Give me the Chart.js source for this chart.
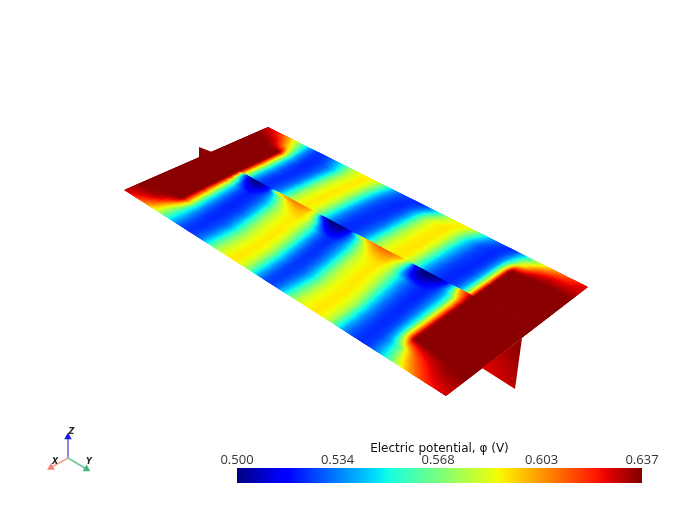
<!DOCTYPE html>
<html>
<head>
<meta charset="utf-8">
<title>Electric potential</title>
<script src="https://cdn.jsdelivr.net/npm/chart.js@4"></script>
<style>
    html, body { margin: 0; padding: 0; background: #fff; overflow: hidden; }
    #surface { position: absolute; left: 0; top: 0; }
    #colorbar { position: absolute; left: 187px; top: 442px; }
</style>
</head>
<body>
<canvas id="surface" width="679" height="509"></canvas>
<canvas id="colorbar" width="492" height="53"></canvas>
<script>
// ── Data ─────────────────────────────────
const PHI_MIN = 0.500;
const PHI_MAX = 0.637;
const barTicks = [0.500, 0.534, 0.568, 0.603, 0.637];
const barTitle = 'Electric potential, φ (V)';

// stations along the device (fraction of its length)
const stations = [
    0.00, 0.02, 0.04, 0.06, 0.08, 0.10, 0.12, 0.14, 0.16, 0.18,
    0.20, 0.22, 0.24, 0.26, 0.28, 0.30, 0.32, 0.34, 0.36, 0.38,
    0.40, 0.42, 0.44, 0.46, 0.48, 0.50, 0.52, 0.54, 0.56, 0.58,
    0.60, 0.62, 0.64, 0.66, 0.68, 0.70, 0.72, 0.74, 0.76, 0.78,
    0.80, 0.82, 0.84, 0.86, 0.88, 0.90, 0.92, 0.94, 0.96, 0.98,
    1.00
];

// potential along each row, front half (edge to seam)
const frontRowPos = [0, 0.17, 0.32, 0.55, 0.80, 0.88, 0.95, 1];
const frontEdge = [
    .628,.624,.617,.608,.597,.584,.568,.552,.537,.527,
    .524,.526,.533,.549,.568,.581,.588,.591,.589,.577,
    .556,.538,.527,.525,.533,.547,.565,.580,.587,.590,
    .591,.588,.578,.558,.540,.530,.525,.523,.525,.532,
    .543,.556,.571,.585,.597,.606,.613,.618,.622,.625,
    .628];
const frontA = [
    .636,.636,.635,.632,.622,.600,.574,.553,.537,.527,
    .523,.525,.533,.548,.567,.580,.588,.591,.588,.575,
    .554,.536,.526,.525,.532,.546,.564,.579,.587,.590,
    .591,.587,.577,.556,.539,.529,.524,.523,.526,.536,
    .552,.570,.595,.610,.618,.624,.628,.632,.634,.634,
    .634];
const frontB = [
    .640,.640,.640,.640,.640,.640,.600,.556,.535,.525,
    .522,.525,.532,.547,.566,.580,.588,.591,.587,.573,
    .551,.534,.525,.525,.531,.544,.562,.578,.587,.590,
    .591,.586,.575,.553,.537,.528,.523,.523,.529,.547,
    .592,.640,.640,.640,.640,.640,.640,.640,.640,.640,
    .640];
const frontC = [
    .640,.640,.640,.640,.640,.640,.590,.550,.531,.523,
    .522,.526,.537,.556,.575,.585,.590,.591,.582,.563,
    .541,.528,.523,.526,.536,.553,.573,.584,.589,.591,
    .589,.580,.562,.544,.532,.525,.522,.524,.533,.553,
    .596,.640,.640,.640,.640,.640,.640,.640,.640,.640,
    .640];
const frontD = [
    .640,.640,.640,.640,.640,.640,.578,.542,.526,.521,
    .524,.532,.547,.569,.582,.589,.591,.587,.570,.549,
    .532,.523,.523,.532,.545,.566,.581,.588,.591,.591,
    .584,.568,.550,.536,.527,.523,.521,.526,.537,.558,
    .600,.640,.640,.640,.640,.640,.640,.640,.640,.640,
    .640];
const frontE = [
    .640,.640,.640,.640,.640,.640,.570,.528,.512,.514,
    .524,.536,.556,.578,.590,.595,.595,.587,.565,.532,
    .514,.512,.518,.532,.551,.573,.588,.595,.597,.595,
    .584,.562,.532,.515,.510,.512,.518,.526,.540,.563,
    .605,.640,.640,.640,.640,.640,.640,.640,.640,.640,
    .640];
const frontF = [
    .640,.640,.640,.640,.640,.640,.545,.510,.503,.507,
    .520,.545,.574,.592,.600,.601,.596,.580,.540,.510,
    .503,.505,.515,.535,.560,.587,.600,.604,.604,.600,
    .587,.562,.525,.505,.500,.503,.510,.524,.550,.590,
    .615,.640,.640,.640,.640,.640,.640,.640,.640,.640,
    .640];
const frontSeam = [
    .640,.640,.640,.640,.640,.640,.535,.502,.500,.507,
    .525,.592,.604,.608,.608,.606,.600,.575,.512,.500,
    .500,.500,.512,.550,.592,.603,.608,.610,.610,.606,
    .600,.570,.515,.502,.500,.500,.505,.518,.550,.605,
    .620,.640,.640,.640,.640,.640,.640,.640,.640,.640,
    .640];

// potential along each row, back half (seam to edge)
const backRowPos = [0, 0.33, 0.67, 0.83, 1];
const backSeam = [
    .640,.640,.640,.640,.640,.640,.580,.542,.527,.523,
    .526,.536,.556,.577,.587,.591,.588,.574,.552,.536,
    .527,.523,.523,.527,.536,.553,.572,.584,.589,.591,
    .590,.580,.560,.542,.531,.525,.522,.522,.527,.542,
    .580,.640,.640,.640,.640,.640,.640,.640,.640,.640,
    .640];
const backA = [
    .640,.640,.640,.640,.640,.640,.582,.544,.528,.523,
    .525,.533,.552,.574,.586,.591,.589,.577,.556,.538,
    .528,.524,.523,.526,.533,.549,.569,.582,.589,.591,
    .591,.582,.563,.545,.533,.526,.523,.522,.526,.540,
    .580,.640,.640,.640,.640,.640,.640,.640,.640,.640,
    .640];
const backB = [
    .640,.640,.640,.640,.640,.640,.580,.542,.527,.522,
    .524,.531,.548,.570,.584,.590,.590,.579,.560,.542,
    .530,.525,.523,.524,.531,.545,.565,.581,.588,.591,
    .591,.584,.566,.547,.536,.527,.524,.522,.525,.538,
    .580,.640,.640,.640,.640,.640,.640,.640,.640,.640,
    .640];
const backC = [
    .637,.636,.634,.628,.612,.592,.565,.537,.525,.522,
    .525,.532,.545,.566,.582,.589,.591,.582,.564,.546,
    .533,.526,.523,.523,.529,.542,.561,.579,.588,.591,
    .591,.585,.569,.551,.538,.528,.524,.522,.525,.535,
    .556,.585,.600,.615,.624,.628,.630,.630,.630,.630,
    .630];
const backEdge = [
    .630,.626,.618,.607,.592,.575,.552,.534,.524,.524,
    .530,.540,.553,.570,.583,.589,.591,.586,.572,.553,
    .538,.529,.525,.523,.523,.527,.538,.554,.572,.584,
    .589,.591,.584,.570,.553,.540,.531,.525,.522,.526,
    .540,.555,.570,.583,.594,.603,.609,.614,.618,.622,
    .626];

const frontRows = [frontEdge, frontA, frontB, frontC, frontD, frontE, frontF, frontSeam];
const backRows  = [backSeam, backA, backB, backC, backEdge];

// ── View of the device in the picture ────
const cornerLeft   = { x: 124, y: 190 };
const cornerBottom = { x: 446, y: 396 };
const cornerTop    = { x: 268, y: 127 };
const cornerRight  = { x: 588, y: 287 };
const seamStart = 0.58;
const seamEnd   = 0.625;

function view(s, t) {
    const ax = cornerLeft.x + (cornerBottom.x - cornerLeft.x) * s;
    const ay = cornerLeft.y + (cornerBottom.y - cornerLeft.y) * s;
    const bx = cornerTop.x + (cornerRight.x - cornerTop.x) * s;
    const by = cornerTop.y + (cornerRight.y - cornerTop.y) * s;
    return { x: ax + (bx - ax) * t, y: ay + (by - ay) * t };
}

function rowDataset(values, pos, group) {
    const data = stations.map((s, i) => {
        const seam = seamStart + (seamEnd - seamStart) * s;
        const t = group === 'front' ? pos * seam : seam + (1 - seam) * pos;
        return { ...view(s, t), phi: values[i] };
    });
    return { data, group, showLine: false, pointRadius: 0, pointHitRadius: 0 };
}

// ── Jet colormap ─────────────────────────
function ramp(f, pts) {
    for (let i = 1; i < pts.length; i++) {
        if (f <= pts[i][0]) {
            const k = (f - pts[i - 1][0]) / (pts[i][0] - pts[i - 1][0]);
            return pts[i - 1][1] + (pts[i][1] - pts[i - 1][1]) * k;
        }
    }
    return pts[pts.length - 1][1];
}
function jet(phi, darkEnd = 0.5) {
    const f = Math.min(1, Math.max(0, (phi - PHI_MIN) / (PHI_MAX - PHI_MIN)));
    const r = ramp(f, [[0, 0], [0.35, 0], [0.66, 1], [0.89, 1], [1, darkEnd]]);
    const g = ramp(f, [[0, 0], [0.125, 0], [0.375, 1], [0.64, 1], [0.91, 0], [1, 0]]);
    const b = ramp(f, [[0, 0.5], [0.11, 1], [0.34, 1], [0.65, 0], [1, 0]]);
    return `rgb(${Math.round(r * 255)},${Math.round(g * 255)},${Math.round(b * 255)})`;
}

// ── Surface shading (row elements come from the chart's scales) ──
function shadeBand(ctx, lowEls, highEls, lowVals, highVals) {
    const subS = 4;
    for (let i = 0; i < stations.length - 1; i++) {
        const gap = Math.hypot(highEls[i].x - lowEls[i].x, highEls[i].y - lowEls[i].y);
        const subT = Math.max(1, Math.ceil(gap / 2));
        for (let a = 0; a < subS; a++) {
            for (let b = 0; b < subT; b++) {
                const u0 = a / subS, u1 = (a + 1) / subS;
                const v0 = b / subT, v1 = (b + 1) / subT;
                const at = (u, v) => {
                    const lx = lowEls[i].x + (lowEls[i + 1].x - lowEls[i].x) * u;
                    const ly = lowEls[i].y + (lowEls[i + 1].y - lowEls[i].y) * u;
                    const hx = highEls[i].x + (highEls[i + 1].x - highEls[i].x) * u;
                    const hy = highEls[i].y + (highEls[i + 1].y - highEls[i].y) * u;
                    return [lx + (hx - lx) * v, ly + (hy - ly) * v];
                };
                const um = (u0 + u1) / 2, vm = (v0 + v1) / 2;
                const lo = lowVals[i] + (lowVals[i + 1] - lowVals[i]) * um;
                const hi = highVals[i] + (highVals[i + 1] - highVals[i]) * um;
                const col = jet(lo + (hi - lo) * vm, 0.545);
                ctx.beginPath();
                ctx.moveTo(...at(u0, v0));
                ctx.lineTo(...at(u1, v0));
                ctx.lineTo(...at(u1, v1));
                ctx.lineTo(...at(u0, v1));
                ctx.closePath();
                ctx.fillStyle = col;
                ctx.strokeStyle = col;
                ctx.fill();
                ctx.stroke();
            }
        }
    }
}

const surfacePlugin = {
    id: 'surfaceShade',
    beforeDatasetsDraw(chart) {
        const ctx = chart.ctx;
        ['front', 'back'].forEach(group => {
            const idx = [];
            chart.data.datasets.forEach((d, i) => { if (d.group === group) idx.push(i); });
            // outline of this half, keeps the overlapping strokes inside
            const first = chart.getDatasetMeta(idx[0]).data;
            const last  = chart.getDatasetMeta(idx[idx.length - 1]).data;
            ctx.save();
            ctx.beginPath();
            first.forEach((el, i) => i ? ctx.lineTo(el.x, el.y) : ctx.moveTo(el.x, el.y));
            [...last].reverse().forEach(el => ctx.lineTo(el.x, el.y));
            ctx.closePath();
            ctx.clip();
            ctx.lineWidth = 1.6;
            for (let n = 0; n < idx.length - 1; n++) {
                const lowSet  = chart.data.datasets[idx[n]].data.map(p => p.phi);
                const highSet = chart.data.datasets[idx[n + 1]].data.map(p => p.phi);
                shadeBand(ctx, chart.getDatasetMeta(idx[n]).data, chart.getDatasetMeta(idx[n + 1]).data, lowSet, highSet);
            }
            ctx.restore();
        });
    }
};

// ── Orientation triad ────────────────────
const triadOrigin = { x: 68, y: 458 };
const triadNames  = ['X', 'Y', 'Z'];
const triadTips   = [{ x: 51, y: 467.5 }, { x: 86.5, y: 469 }, { x: 68, y: 437 }];
const triadLabels = [{ x: 55, y: 462 }, { x: 89, y: 462 }, { x: 71.5, y: 432 }];
const triadShaft  = ['#f4a898', '#74c9a0', '#8a8ae6'];
const triadHead   = ['#f08474', '#46b37c', '#1a1ae6'];

function triadDataset(i) {
    const tip = triadTips[i];
    const angle = Math.atan2(tip.x - triadOrigin.x, -(tip.y - triadOrigin.y)) * 180 / Math.PI;
    return {
        data: [triadOrigin, tip],
        showLine: true,
        borderColor: triadShaft[i],
        borderWidth: 2,
        pointStyle: 'triangle',
        pointRadius: c => c.dataIndex === 1 ? 4.4 : 0,
        pointRotation: angle,
        pointBackgroundColor: triadHead[i],
        pointBorderWidth: 0
    };
}

const triadTextPlugin = {
    id: 'triadText',
    afterDatasetsDraw(chart) {
        const ctx = chart.ctx;
        ctx.save();
        ctx.font = 'italic bold 8px "DejaVu Sans"';
        ctx.fillStyle = '#222';
        ctx.textAlign = 'center';
        ctx.textBaseline = 'middle';
        triadNames.forEach((name, i) => {
            const p = triadLabels[i];
            ctx.fillText(name, chart.scales.x.getPixelForValue(p.x), chart.scales.y.getPixelForValue(p.y));
        });
        ctx.restore();
    }
};

// ── Electrode sheets at the two ends ─────
const sheetFar  = [{ x: 199, y: 147 }, { x: 199, y: 158 }, { x: 212, y: 152 }, { x: 199, y: 147 }];
const sheetNear = [{ x: 482, y: 368 }, { x: 515, y: 389 }, { x: 522, y: 338 }, { x: 482, y: 368 }];

function nearSheetFill(c) {
    const { chart } = c;
    const g = chart.ctx.createLinearGradient(483, 372, 522, 352);
    g.addColorStop(0, '#e60000');
    g.addColorStop(1, '#8b0000');
    return g;
}

// ── Surface chart ────────────────────────
new Chart(document.getElementById('surface'), {
    type: 'scatter',
    data: {
        datasets: [
            ...frontRows.map((r, i) => rowDataset(r, frontRowPos[i], 'front')),
            ...backRows.map((r, i) => rowDataset(r, backRowPos[i], 'back')),
            { data: sheetFar, showLine: true, fill: 'shape', tension: 0, borderWidth: 0, pointRadius: 0, backgroundColor: '#8b0000' },
            { data: sheetNear, showLine: true, fill: 'shape', tension: 0, borderWidth: 0, pointRadius: 0, backgroundColor: nearSheetFill },
            ...triadNames.map((n, i) => triadDataset(i))
        ]
    },
    options: {
        responsive: false,
        animation: false,
        layout: { padding: 0, autoPadding: false },
        plugins: { legend: { display: false }, tooltip: { enabled: false } },
        scales: {
            x: { type: 'linear', min: 0, max: 679, display: false },
            y: { type: 'linear', min: 0, max: 509, reverse: true, display: false }
        }
    },
    plugins: [surfacePlugin, triadTextPlugin]
});

// ── Colour bar ───────────────────────────
function barFill(c) {
    const area = c.chart.chartArea;
    if (!area) return '#000';
    const g = c.chart.ctx.createLinearGradient(area.left, 0, area.right, 0);
    for (let i = 0; i <= 64; i++) {
        g.addColorStop(i / 64, jet(PHI_MIN + (PHI_MAX - PHI_MIN) * i / 64));
    }
    return g;
}

new Chart(document.getElementById('colorbar'), {
    type: 'bar',
    data: {
        labels: ['phi'],
        datasets: [{
            data: [[PHI_MIN, PHI_MAX]],
            backgroundColor: barFill,
            barPercentage: 1,
            categoryPercentage: 1,
            borderSkipped: false
        }]
    },
    options: {
        indexAxis: 'y',
        responsive: false,
        animation: false,
        layout: { padding: { left: 50, right: 37, top: 0, bottom: 12 } },
        plugins: { legend: { display: false }, tooltip: { enabled: false } },
        scales: {
            y: { display: false },
            x: {
                position: 'top',
                min: PHI_MIN,
                max: PHI_MAX,
                afterBuildTicks: scale => { scale.ticks = barTicks.map(v => ({ value: v })); },
                afterFit: scale => { scale.height = 26; },
                grid: { display: false, drawTicks: false },
                border: { display: false },
                ticks: {
                    autoSkip: false,
                    maxRotation: 0,
                    padding: 0,
                    color: '#333',
                    font: { family: 'Open Sans', size: 13 },
                    callback: v => v.toFixed(3)
                },
                title: {
                    display: true,
                    text: barTitle,
                    color: '#111',
                    font: { family: 'DejaVu Sans', size: 12 },
                    padding: { top: 0, bottom: 3 }
                }
            }
        }
    }
});
</script>
</body>
</html>
